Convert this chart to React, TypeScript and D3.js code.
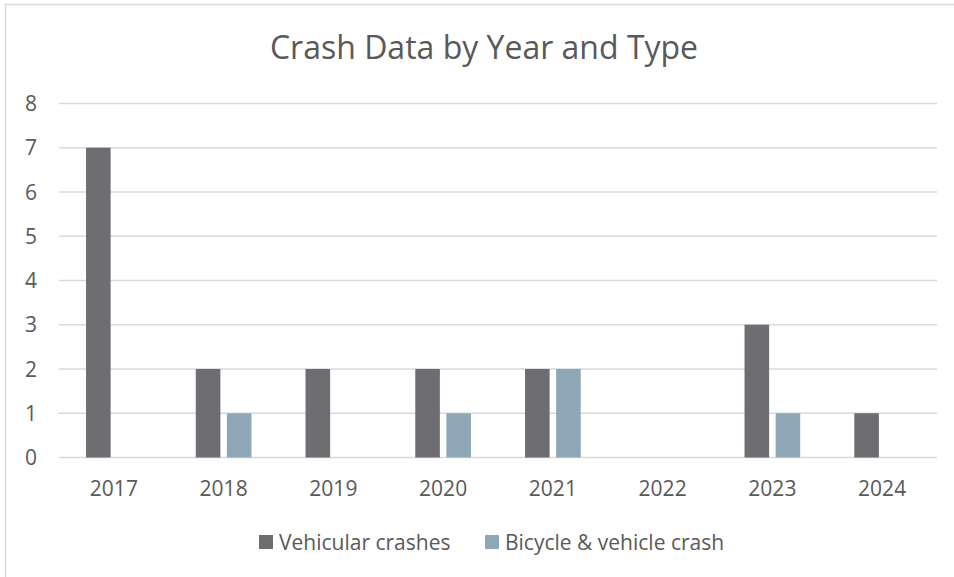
import { useRef, useEffect } from 'react'
import * as d3 from 'd3'

const years = ['2017', '2018', '2019', '2020', '2021', '2022', '2023', '2024']
const vehicular = [7, 2, 2, 2, 2, 0, 3, 1]
const bicycle = [0, 1, 0, 1, 2, 0, 1, 0]
const seriesNames = ['Vehicular crashes', 'Bicycle & vehicle crash']
const seriesColors = ['#6e6d72', '#8fa8b8']
const yTicks = [0, 1, 2, 3, 4, 5, 6, 7, 8]

function App() {
  const ref = useRef<SVGSVGElement>(null)

  useEffect(() => {
    const width = 954, height = 577
    const left = 59, right = 937, top = 103.5, bottom = 457.5
    const font = "'Open Sans', sans-serif"
    const textColor = '#595959'

    const svg = d3.select(ref.current)
    svg.selectAll('*').remove()

    // chart area border
    svg.append('rect')
      .attr('x', 5.5).attr('y', 4.5)
      .attr('width', width + 20).attr('height', height + 20)
      .attr('fill', '#fff').attr('stroke', '#d9d9d9').attr('stroke-width', 1.5)

    const x = d3.scaleBand().domain(years).range([left, right]).padding(0)
    const x1 = d3.scaleBand().domain(seriesNames)
      .range([0, x.bandwidth()]).paddingInner(0.209).paddingOuter(0.869)
    const y = d3.scaleLinear().domain([0, 8]).range([bottom, top])

    // gridlines
    svg.append('g').selectAll('line')
      .data(yTicks).enter().append('line')
      .attr('x1', left).attr('x2', right)
      .attr('y1', d => y(d)).attr('y2', d => y(d))
      .attr('stroke', '#d9d9d9').attr('stroke-width', 1.3)

    // y labels
    svg.append('g').selectAll('text')
      .data(yTicks).enter().append('text')
      .attr('x', 37).attr('y', d => y(d))
      .attr('dy', '0.36em')
      .attr('text-anchor', 'end')
      .style('font', `21px ${font}`)
      .attr('fill', textColor)
      .text(d => d)

    // bars
    const rows = years.map((yr, i) => ({ year: yr, values: [vehicular[i], bicycle[i]] }))
    const groups = svg.append('g').selectAll('g')
      .data(rows).enter().append('g')
      .attr('transform', d => `translate(${x(d.year)},0)`)
    groups.selectAll('rect')
      .data(d => d.values.map((v, k) => ({ key: seriesNames[k], v, k })))
      .enter().append('rect')
      .attr('x', d => x1(d.key)!)
      .attr('width', x1.bandwidth())
      .attr('y', d => y(d.v))
      .attr('height', d => y(0) - y(d.v))
      .attr('fill', d => seriesColors[d.k])

    // x labels
    svg.append('g').selectAll('text')
      .data(years).enter().append('text')
      .attr('x', d => x(d)! + x.bandwidth() / 2)
      .attr('y', 496)
      .attr('text-anchor', 'middle')
      .style('font', `21px ${font}`)
      .attr('fill', textColor)
      .text(d => d)

    // title
    svg.append('text')
      .attr('x', 484).attr('y', 59)
      .attr('text-anchor', 'middle')
      .style('font', `32px ${font}`)
      .attr('fill', textColor)
      .text('Crash Data by Year and Type')

    // legend
    const legendX = [259, 485]
    seriesNames.forEach((name, i) => {
      svg.append('rect')
        .attr('x', legendX[i]).attr('y', 535)
        .attr('width', 14).attr('height', 14)
        .attr('fill', seriesColors[i])
      svg.append('text')
        .attr('x', legendX[i] + 20).attr('y', 542)
        .attr('dy', '0.36em')
        .style('font', `21px ${font}`)
        .attr('fill', textColor)
        .text(name)
    })
  }, [])

  return (
    <svg ref={ref} width={954} height={577}
      style={{ position: 'absolute', left: 0, top: 0 }}>
    </svg>
  )
}

export default App
